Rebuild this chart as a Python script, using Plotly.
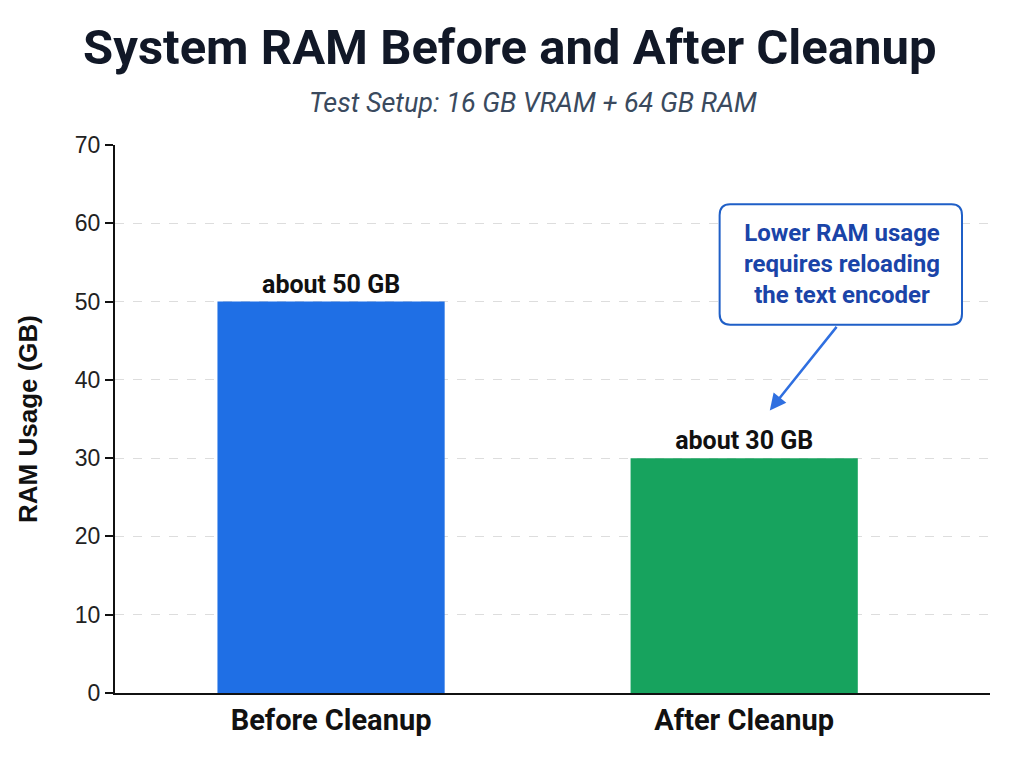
import plotly.graph_objects as go

categories = ["Before Cleanup", "After Cleanup"]
ram_gb = [50, 30]
bar_labels = ["about 50 GB", "about 30 GB"]
bar_colors = ["#1f6fe5", "#17a35e"]
y_ticks = [0, 10, 20, 30, 40, 50, 60, 70]

title = "<b>System RAM Before and After Cleanup</b>"
subtitle = "<i>Test Setup: 16 GB VRAM + 64 GB RAM</i>"
note = "<b>Lower RAM usage<br>requires reloading<br>the text encoder</b>"

fig = go.Figure()
fig.add_trace(go.Bar(
    x=categories,
    y=ram_gb,
    width=0.55,
    marker=dict(color=bar_colors, line=dict(width=0)),
    text=[f"<b>{t}</b>" for t in bar_labels],
    textposition="outside",
    textfont=dict(family="Roboto", size=25, color="#111111"),
    cliponaxis=False,
    hoverinfo="skip",
))

# rounded call-out box (paper coords)
x0, x1, y0, y1 = 0.691, 0.968, 0.672, 0.892
rx, ry = 0.012, 0.02
box = (
    f"M {x0 + rx},{y0} L {x1 - rx},{y0} Q {x1},{y0} {x1},{y0 + ry} "
    f"L {x1},{y1 - ry} Q {x1},{y1} {x1 - rx},{y1} "
    f"L {x0 + rx},{y1} Q {x0},{y1} {x0},{y1 - ry} "
    f"L {x0},{y0 + ry} Q {x0},{y0} {x0 + rx},{y0} Z"
)
fig.add_shape(type="path", path=box, xref="paper", yref="paper",
              line=dict(color="#1f5fc7", width=2), fillcolor="white", layer="above")

fig.add_annotation(
    x=0.831, y=0.782, xref="paper", yref="paper", text=note, showarrow=False,
    xanchor="center", yanchor="middle",
    font=dict(family="Roboto", size=24, color="#1a44a8"), align="center",
)
fig.add_annotation(
    x=1.062, y=36.1, xref="x", yref="y", text="", showarrow=True,
    ax=68, ay=-85, arrowhead=2, arrowsize=1.3, arrowwidth=2.5, arrowcolor="#2f6fe0",
)
fig.add_annotation(
    x=0.478, y=1.077, xref="paper", yref="paper", text=subtitle, showarrow=False,
    xanchor="center", yanchor="middle",
    font=dict(family="Roboto", size=27, color="#3a4a5e"),
)

fig.update_layout(
    width=1024, height=768,
    margin=dict(l=107, r=42, t=137, b=83),
    paper_bgcolor="white", plot_bgcolor="white",
    title=dict(text=title, x=0.49, xanchor="center", y=0.949, yanchor="middle",
               font=dict(family="Roboto", size=49, color="#111827")),
    showlegend=False,
    xaxis=dict(
        range=[-0.523, 1.595], showline=True, linecolor="#111111", linewidth=2,
        ticks="", showgrid=False,
        tickfont=dict(family="Roboto", size=29, color="#111111"),
        tickprefix="<b>", ticksuffix="</b>",
    ),
    yaxis=dict(
        range=[0, 70], tickvals=y_ticks, showline=True, linecolor="#111111", linewidth=2,
        ticks="outside", ticklen=8, tickcolor="#111111", tickwidth=1.5,
        showgrid=True, gridcolor="#dddddd", griddash="dash", gridwidth=1,
        zeroline=False,
        tickfont=dict(family="Liberation Sans", size=23, color="#222222"),
        title=dict(text="<b>RAM Usage (GB)</b>", standoff=30,
                   font=dict(family="Liberation Sans", size=26, color="#111111")),
    ),
)

fig.write_html("out.html")
